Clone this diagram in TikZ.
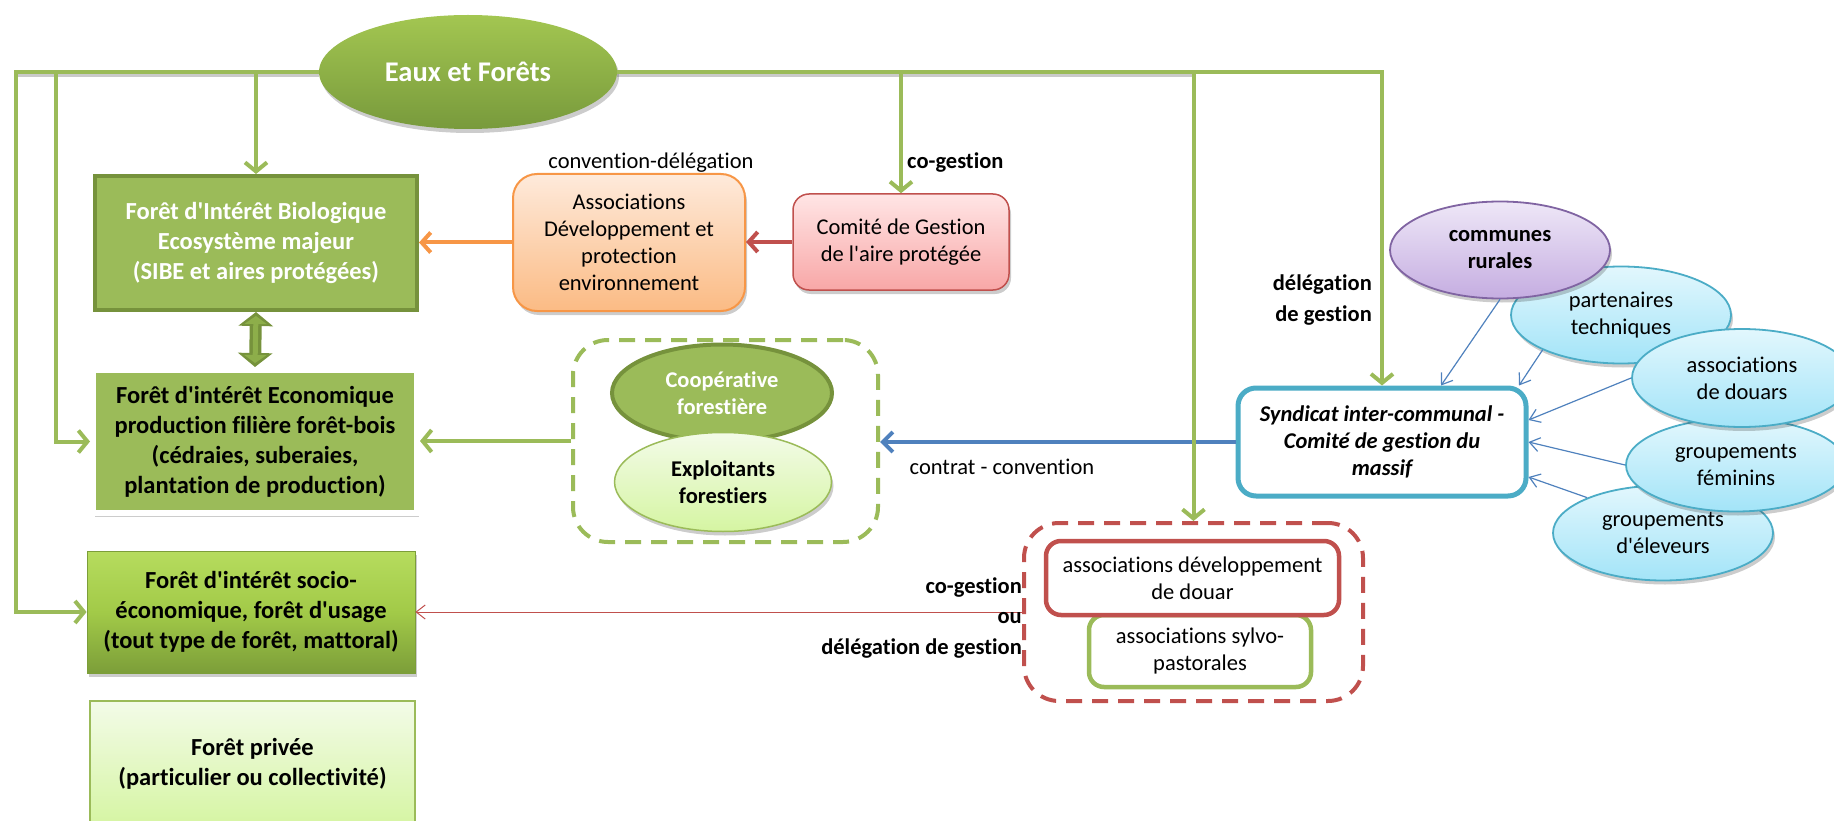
\documentclass[tikz,border=0pt]{standalone}
\usepackage{fontspec}
\setmainfont{Carlito}[Ligatures={NoCommon}]
\usetikzlibrary{arrows.meta,shapes.geometric,shadows}

% Office-style accent colours
\definecolor{olive}{HTML}{9BBB59}
\definecolor{olivedark}{HTML}{76923C}
\definecolor{olivemid}{HTML}{8DAE4A}
\definecolor{accblue}{HTML}{4F81BD}
\definecolor{accred}{HTML}{C0504D}
\definecolor{accpurple}{HTML}{8064A2}
\definecolor{accaqua}{HTML}{4BACC6}
\definecolor{accorange}{HTML}{F79646}
% gradient stops
\definecolor{eftop}{HTML}{A3C651}
\definecolor{efbot}{HTML}{789A3C}
\definecolor{soctop}{HTML}{B6DC5E}
\definecolor{socmid}{HTML}{A2CA48}
\definecolor{socbot}{HTML}{7C9E39}
\definecolor{palegreentop}{HTML}{F3FBE8}
\definecolor{palegreenbot}{HTML}{D5F5A2}
\definecolor{orangetop}{HTML}{FEEADB}
\definecolor{orangebot}{HTML}{FBBB84}
\definecolor{pinktop}{HTML}{FFE5E5}
\definecolor{pinkbot}{HTML}{F8A7A7}
\definecolor{lilactop}{HTML}{EEE7F7}
\definecolor{lilacbot}{HTML}{C5ADE1}
\definecolor{aquatop}{HTML}{E2F7FD}
\definecolor{aquabot}{HTML}{A3E4F8}

\newcommand{\boxbold}{\fontsize{24.5}{30}\selectfont\bfseries}
\newcommand{\plaintxt}{\fontsize{22.5}{27}\selectfont}
\newcommand{\titletxt}{\fontsize{28.5}{34}\selectfont\bfseries}
\newcommand{\q}{\textquotesingle}% straight apostrophe

\tikzset{
  every node/.style={inner sep=0pt, align=center},
  softshadow/.style={drop shadow={shadow xshift=2pt,shadow yshift=-4pt,opacity=.25,fill=black!80}},
  greenlink/.style={draw=olive, line width=4pt, -{Straight Barb[length=9pt,width=22pt]}},
  orangelink/.style={draw=accorange, line width=4pt, -{Straight Barb[length=9pt,width=20pt]}},
  redlink/.style={draw=accred, line width=4pt, -{Straight Barb[length=9pt,width=20pt]}},
  bluelink/.style={draw=accblue, line width=4pt, -{Straight Barb[length=10pt,width=20pt]}},
  redthin/.style={draw=accred, line width=1pt, -{Straight Barb[length=9pt,width=14pt]}},
  bluethin/.style={draw=accblue, line width=1.2pt, -{Straight Barb[length=10pt,width=14pt]}},
  dashgroup/.style={rectangle, rounded corners=35pt, line width=4pt, dash pattern=on 16pt off 10pt},
  aquaoval/.style={ellipse, minimum width=220pt, top color=aquatop, bottom color=aquabot,
    draw=accaqua, line width=1.8pt, softshadow, font=\plaintxt},
  whitebox/.style={rectangle, rounded corners=15pt, fill=white, line width=4.5pt, font=\plaintxt},
}

\begin{document}
\begin{tikzpicture}[x=1pt,y=-1pt]
\useasboundingbox (0,0) rectangle (1834,821);

% ---------- forest categories, left column
\node[rectangle, minimum width=322pt, minimum height=134pt, fill=olive, draw=olivedark,
  line width=4pt, text=white, font=\boxbold] (fib) at (256,243)
  {Forêt d\q Intérêt Biologique\\Ecosystème majeur\\(SIBE et aires protégées)};

\node[rectangle, minimum width=324pt, minimum height=143pt, fill=olive, draw=white,
  line width=6pt, softshadow, font=\boxbold] (fie) at (255,441.5)
  {Forêt d\q intérêt Economique\\production filière forêt-bois\\(cédraies, suberaies,\\plantation de production)};

\node[rectangle, minimum width=328pt, minimum height=122pt, top color=soctop, bottom color=socbot,
  middle color=socmid, draw=socbot, line width=0.8pt, softshadow, font=\boxbold] (socio) at (251,612)
  {Forêt d\q intérêt socio-\\économique, forêt d\q usage\\(tout type de forêt, mattoral)};

\node[rectangle, minimum width=325pt, minimum height=126pt, top color=palegreentop,
  bottom color=palegreenbot, draw=olive, line width=1.5pt, font=\boxbold] (priv) at (252.5,764)
  {Forêt privée\\(particulier ou collectivité)};

% two-way link between the first two categories
\draw[olivedark, line width=12pt, {Triangle[length=14pt,width=34pt]}-{Triangle[length=14pt,width=34pt]}]
  (fib.south) -- (fie.north);
\draw[olivemid, line width=5pt, shorten <=4pt, shorten >=4pt,
  {Triangle[length=8pt,width=22pt]}-{Triangle[length=8pt,width=22pt]}]
  (fib.south) -- (fie.north);

% ---------- administration
\node[ellipse, minimum width=298pt, minimum height=114pt, top color=eftop, bottom color=efbot,
  softshadow, text=white, font=\titletxt] (ef) at (468,72) {Eaux et Forêts};

\node[rectangle, rounded corners=24pt, minimum width=232pt, minimum height=137pt,
  top color=orangetop, bottom color=orangebot, draw=accorange, line width=2pt, softshadow,
  font=\plaintxt] (assoc) at (629,242.5)
  {Associations\\Développement et\\protection\\environnement};

\node[rectangle, rounded corners=16pt, minimum width=216pt, minimum height=96pt,
  top color=pinktop, bottom color=pinkbot, draw=accred, line width=1.5pt, softshadow,
  font=\plaintxt] (comite) at (901,242)
  {Comité de Gestion\\de l\q aire protégée};

% ---------- forestry operators
\node[dashgroup, draw=olive, minimum width=305pt, minimum height=202pt] (coopgrp) at (725.5,441) {};
\node[ellipse, minimum width=220pt, minimum height=97pt, fill=olive, draw=olivedark,
  line width=4pt, text=white, font=\plaintxt\bfseries] (coop) at (722,393)
  {Coopérative\\forestière};
\node[ellipse, minimum width=217pt, minimum height=99pt, top color=palegreentop,
  bottom color=palegreenbot, draw=olive, line width=1.5pt, softshadow,
  font=\plaintxt\bfseries] (exploit) at (723,482)
  {Exploitants\\forestiers};

% ---------- massif committee and its members
\node[rectangle, rounded corners=18pt, minimum width=288pt, minimum height=108pt, fill=white,
  draw=accaqua, line width=5pt, font=\plaintxt\bfseries\itshape] (synd) at (1382,442)
  {Syndicat inter-communal -\\Comité de gestion du\\massif};

\node[aquaoval, minimum height=95pt] (eleveurs) at (1663,533) {groupements\\d\q éleveurs};
\node[aquaoval, minimum height=93pt] (femin) at (1736,465) {groupements\\féminins};
\node[aquaoval, minimum height=97pt] (partn) at (1621,315) {partenaires\\techniques};
\node[aquaoval, minimum height=98pt] (douars) at (1742,378) {associations\\de douars};
\node[ellipse, minimum width=220pt, minimum height=97pt, top color=lilactop, bottom color=lilacbot,
  draw=accpurple, line width=1.8pt, softshadow, font=\plaintxt\bfseries] (communes) at (1500,250)
  {communes\\rurales};

% ---------- local associations
\node[dashgroup, draw=accred, minimum width=339pt, minimum height=178pt] (assocgrp) at (1193.5,612) {};
\node[whitebox, draw=olive, minimum width=222pt, minimum height=72pt] (sylvo) at (1200,651)
  {associations sylvo-\\pastorales};
\node[whitebox, draw=accred, minimum width=293pt, minimum height=74pt] (douar) at (1192.5,578)
  {associations développement\\de douar};

% ---------- horizontal links between blocks
\draw[orangelink] (assoc.west) -- (assoc.west -| fib.east);
\draw[redlink] (comite.west) -- (comite.west -| assoc.east);
\draw[bluelink] (synd.west) -- (synd.west -| coopgrp.east);
\draw[greenlink] (coopgrp.west) -- (coopgrp.west -| fie.east);
\draw[redthin] (assocgrp.west) -- (assocgrp.west -| socio.east);

% ---------- members feeding the committee
\draw[bluethin] (communes.south) -- ([xshift=59pt]synd.north);
\draw[bluethin] (partn.204) -- ([xshift=137pt]synd.north);
\draw[bluethin] (douars.west) -- ([yshift=22pt]synd.east);
\draw[bluethin] (femin.west) -- (synd.east);
\draw[bluethin] (eleveurs.155) -- ([yshift=-35pt]synd.east);

% ---------- distribution bus from Eaux et Forêts
\coordinate (lbus) at (16,72);
\coordinate (lbus2) at (56,72);
\draw[black!60, line width=3pt, opacity=.35] ([yshift=-4pt]lbus) -- ([yshift=-4pt]ef.west);
\draw[black!60, line width=3pt, opacity=.35] ([yshift=-4pt]ef.east) -- ([yshift=-4pt]assocgrp.north |- ef.east);
\draw[greenlink] (ef.west) -- (lbus) |- (socio.west);
\draw[greenlink] (lbus2) |- (fie.west);
\draw[greenlink] (fib.north |- ef.west) -- (fib.north);
\draw[greenlink] (ef.east) -| (synd.north);
\draw[greenlink] (comite.north |- ef.east) -- (comite.north);
\draw[greenlink] (assocgrp.north |- ef.east) -- (assocgrp.north);

% ---------- link labels
\node[font=\plaintxt] (lblconv) at (651,163) {convention-délégation};
\node[font=\plaintxt\bfseries, anchor=west] (lblcog) at (907,163) {co-gestion};
\node[font=\fontsize{22.5}{31}\selectfont\bfseries, align=right, anchor=east] (lbldel) at (1372,300)
  {délégation\\de gestion};
\node[font=\plaintxt] (lblcontrat) at (1002,467) {contrat - convention};
\node[font=\fontsize{22.5}{30.5}\selectfont\bfseries, align=right, anchor=east] (lblcog2) at (1022,618)
  {co-gestion\\ou\\délégation de gestion};
\end{tikzpicture}
\end{document}
